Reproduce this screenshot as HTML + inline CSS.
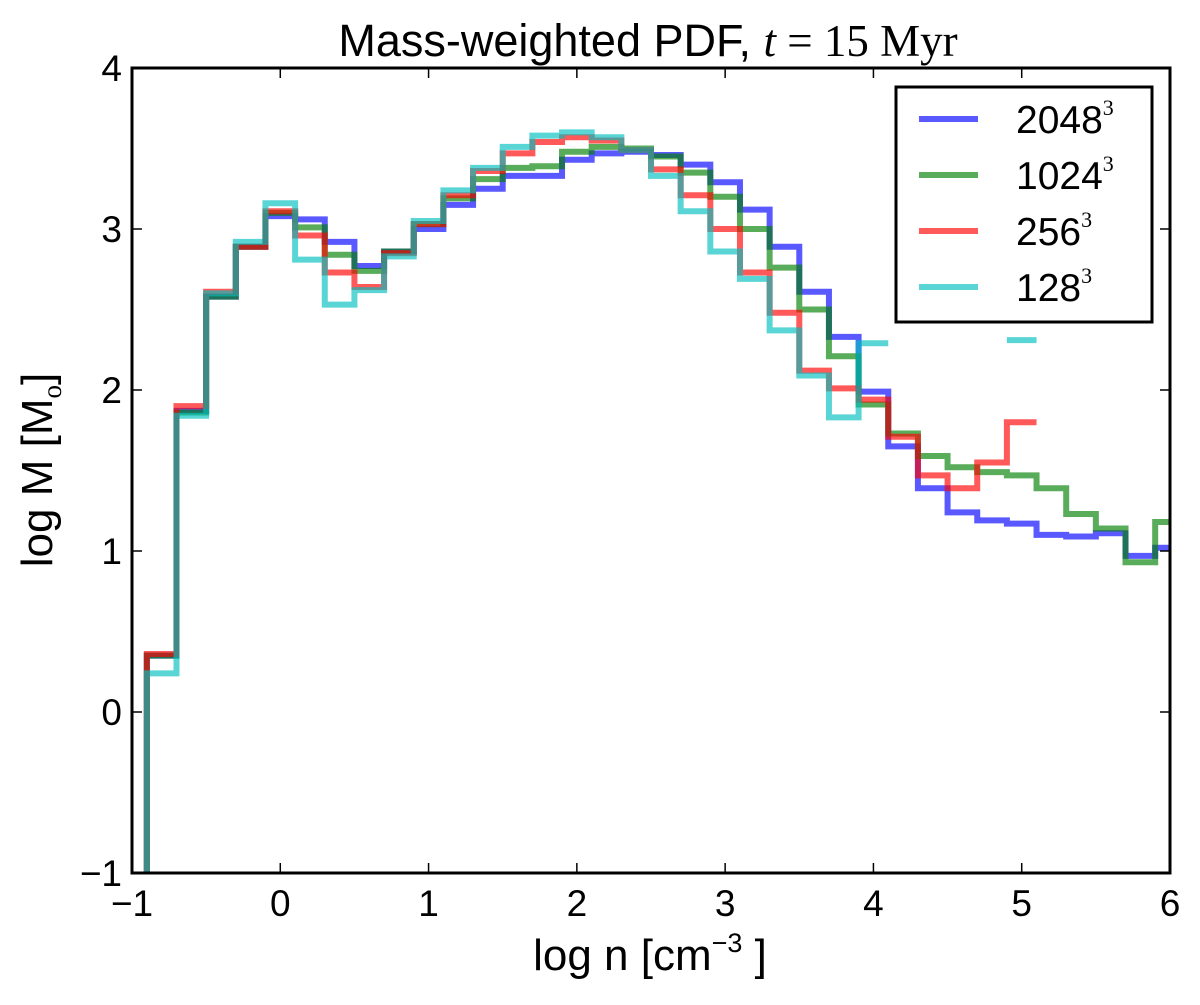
<!DOCTYPE html>
<html><head><meta charset="utf-8"><style>
html,body{margin:0;padding:0;background:#fff;}
svg text{font-family:"Liberation Sans","DejaVu Sans",sans-serif;fill:#000;}
</style></head><body>
<svg id="chart" width="1200" height="1000" xmlns="http://www.w3.org/2000/svg">
<defs><clipPath id="plotclip"><rect x="132" y="68" width="1038" height="805"/></clipPath></defs>
<text x="648" y="56" font-size="45" text-anchor="middle">Mass-weighted PDF, <tspan font-family="Liberation Serif,serif" font-style="italic">t</tspan><tspan font-family="Liberation Serif,serif"> = 15 Myr</tspan></text>
<g id="series" clip-path="url(#plotclip)"></g>
<rect x="132" y="68" width="1038" height="805" fill="none" stroke="#000" stroke-width="3"/>
<g id="ticks"></g>
<text x="650" y="970" font-size="44" text-anchor="middle">log n [cm<tspan font-size="27" dy="-18">−3</tspan><tspan dy="18"> ]</tspan></text>
<text transform="translate(52,470) rotate(-90)" font-size="44" text-anchor="middle">log M [M<tspan font-size="27" dy="9" font-family="Liberation Serif,serif">o</tspan><tspan dy="-9">]</tspan></text>
<g>
<rect x="896" y="87" width="256" height="235" fill="#fff" stroke="#000" stroke-width="3"/>
<g id="legend-entries"></g>
</g>
</svg>
<script>
const binStart = -0.9;
const binWidth = 0.2;
const seriesNames = ["2048", "1024", "256", "128"];
const blueValues = [0.35,1.87,2.58,2.89,3.08,3.06,2.92,2.77,2.86,3.00,3.15,3.25,3.33,3.33,3.43,3.47,3.48,3.46,3.40,3.29,3.12,2.89,2.61,2.33,1.99,1.65,1.39,1.24,1.19,1.17,1.10,1.09,1.11,0.97,1.02];
const greenValues = [0.35,1.86,2.58,2.89,3.10,3.01,2.84,2.74,2.86,3.03,3.19,3.31,3.38,3.39,3.48,3.51,3.50,3.45,3.35,3.20,3.00,2.76,2.50,2.21,1.91,1.73,1.59,1.52,1.49,1.47,1.39,1.23,1.14,0.93,1.18];
const redValues = [0.36,1.90,2.61,2.89,3.11,2.96,2.73,2.64,2.85,3.03,3.21,3.36,3.47,3.54,3.57,3.55,3.49,3.37,3.21,3.00,2.73,2.48,2.12,2.01,1.94,1.71,1.47,1.39,1.55,1.80,null,null,null,null,null];
const cyanValues = [0.24,1.84,2.60,2.92,3.16,2.81,2.53,2.62,2.83,3.05,3.24,3.38,3.51,3.58,3.60,3.57,3.49,3.33,3.11,2.86,2.69,2.37,2.09,1.83,2.29,null,null,null,null,2.31,null,null,null,null,null];
const xTicks = [-1,0,1,2,3,4,5,6];
const yTicks = [-1,0,1,2,3,4];

const X0=132, X1=1170, Y0=873, Y1=68;
const xS = v => X0 + (v - (-1)) / 7 * (X1 - X0);
const yS = v => Y0 - (v - (-1)) / 5 * (Y0 - Y1);
const NS = "http://www.w3.org/2000/svg";
const colors = ["#0000ff","#008000","#ff0000","#00bfbf"];
const allValues = [blueValues, greenValues, redValues, cyanValues];

const sg = document.getElementById('series');
allValues.forEach((vals, si) => {
  let d = "";
  let prev = null;
  for (let k = 0; k < vals.length; k++) {
    const v = vals[k];
    const e0 = binStart + k * binWidth, e1 = e0 + binWidth;
    if (v === null) { prev = null; continue; }
    if (k === 0) {
      d += "M" + xS(e0) + "," + (Y0 + 50) + "L" + xS(e0) + "," + yS(v);
    } else if (prev === null) {
      d += "M" + xS(e0) + "," + yS(v);
    } else {
      d += "L" + xS(e0) + "," + yS(v);
    }
    d += "L" + xS(e1) + "," + yS(v);
    prev = v;
  }
  const p = document.createElementNS(NS, 'path');
  p.setAttribute('d', d);
  p.setAttribute('fill', 'none');
  p.setAttribute('stroke', colors[si]);
  p.setAttribute('stroke-opacity', '0.65');
  p.setAttribute('stroke-width', '6');
  p.setAttribute('stroke-linejoin', 'miter');
  
  
  sg.appendChild(p);
});

const tg = document.getElementById('ticks');
function line(x1,y1,x2,y2,name){
  const l = document.createElementNS(NS,'line');
  l.setAttribute('x1',x1);l.setAttribute('y1',y1);l.setAttribute('x2',x2);l.setAttribute('y2',y2);
  l.setAttribute('stroke','#000');l.setAttribute('stroke-width','1.5');
  
  
  tg.appendChild(l);
}
function text(x,y,s,anchor,name){
  const t = document.createElementNS(NS,'text');
  t.setAttribute('x',x);t.setAttribute('y',y);t.setAttribute('font-size','37');
  t.setAttribute('text-anchor',anchor);
  t.textContent = s;
  
  
  tg.appendChild(t);
}
xTicks.forEach(v => {
  const x = xS(v);
  line(x,Y0,x,Y0-10,'x-tick');
  line(x,Y1,x,Y1+10,'x-tick-top');
  text(x,916,String(v).replace('-','−'),'middle','x-tick-label');
});
yTicks.forEach(v => {
  const y = yS(v);
  line(X0,y,X0+10,y,'y-tick');
  line(X1,y,X1-10,y,'y-tick-right');
  text(122,y+13,String(v).replace('-','−'),'end','y-tick-label');
});

const lg = document.getElementById('legend-entries');
seriesNames.forEach((n, i) => {
  const y = 119 + i * 56;
  const l = document.createElementNS(NS,'line');
  l.setAttribute('x1',919);l.setAttribute('x2',978);l.setAttribute('y1',y);l.setAttribute('y2',y);
  l.setAttribute('stroke',colors[i]);l.setAttribute('stroke-opacity','0.65');l.setAttribute('stroke-width','6');
  
  
  lg.appendChild(l);
  const t = document.createElementNS(NS,'text');
  t.setAttribute('x',1016);t.setAttribute('y',y+14);t.setAttribute('font-size','39');
  t.innerHTML = n + '<tspan font-size="22" dy="-18" font-family="Liberation Serif,serif">3</tspan>';
  
  
  lg.appendChild(t);
});
</script>
</body></html>
